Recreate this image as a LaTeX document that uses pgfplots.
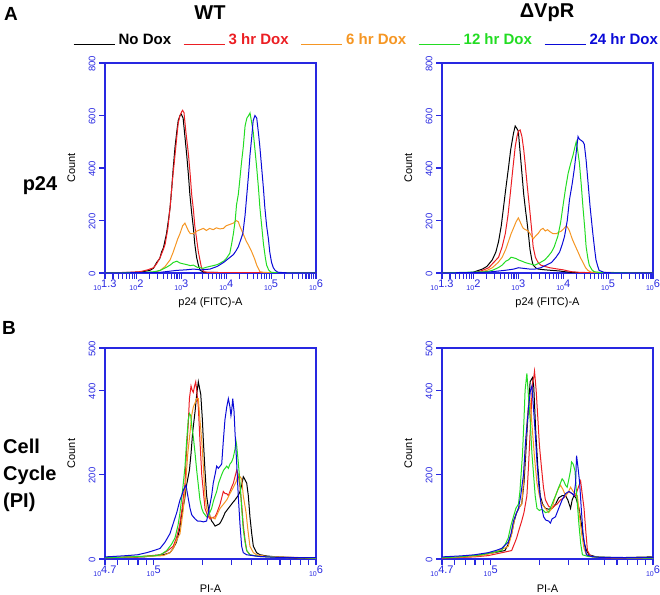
\documentclass[border=0pt]{standalone}
\usepackage{pgfplots}
\pgfplotsset{compat=1.18}
\usepackage{fontspec}
\setmainfont{Liberation Sans}
\definecolor{axblue}{RGB}{40,40,225}
\definecolor{cblack}{RGB}{0,0,0}
\definecolor{cred}{RGB}{235,30,35}
\definecolor{corange}{RGB}{245,150,35}
\definecolor{cgreen}{RGB}{35,220,35}
\definecolor{cblue}{RGB}{10,10,215}
\newcommand\tlab[1]{{\fontsize{7}{7}\selectfont 10}\raisebox{3pt}{\fontsize{11}{11}\selectfont #1}}
\pgfplotsset{
  flow/.style={
    scale only axis, width=211pt,
    axis line style={axblue, line width=1.2pt},
    every tick/.style={axblue, line width=1.1pt},
    tick align=outside, tick pos=left,
    major tick length=6pt, minor tick length=6pt,
    ylabel={Count},
    ylabel style={font=\fontsize{11}{11}\selectfont, at={(axis description cs:-0.16,0.5)}, anchor=center, rotate=0},
    yticklabel style={rotate=90, anchor=south, font=\fontsize{9.5}{9.5}\selectfont, text=axblue, xshift=-1pt},
    xticklabel style={text=axblue, yshift=0pt, inner ysep=1pt},
    /pgf/number format/assume math mode=true,
    ymin=0,
    every axis plot/.append style={line width=1pt, no marks},
  },
  ptf/.style={flow, height=210pt, xmin=1.3, xmax=6, ymax=800,
    ytick={0,200,400,600,800},
    xtick={1.3,2,3,4,5,6},
    xticklabels={\tlab{1.3},\tlab{2},\tlab{3},\tlab{4},\tlab{5},\tlab{6}},
    minor xtick={1.47712,1.60206,1.69897,1.77815,1.84510,1.90309,1.95424,
      2.30103,2.47712,2.60206,2.69897,2.77815,2.84510,2.90309,2.95424,
      3.30103,3.47712,3.60206,3.69897,3.77815,3.84510,3.90309,3.95424,
      4.30103,4.47712,4.60206,4.69897,4.77815,4.84510,4.90309,4.95424,
      5.30103,5.47712,5.60206,5.69897,5.77815,5.84510,5.90309,5.95424},
    xlabel style={font=\fontsize{11}{11}\selectfont, at={(axis description cs:0.5,-0.142)}, anchor=center},
    xlabel={p24 (FITC)-A}},
  pi/.style={flow, height=211pt, xmin=4.7, xmax=6, ymax=500,
    ytick={0,200,400,500},
    xtick={4.7,5,6},
    xticklabels={\tlab{4.7},\tlab{5},\tlab{6}},
    minor xtick={4.77815,4.84510,4.90309,4.95424,
      5.30103,5.47712,5.60206,5.69897,5.77815,5.84510,5.90309,5.95424},
    xlabel style={font=\fontsize{11}{11}\selectfont, at={(axis description cs:0.5,-0.14)}, anchor=center},
    xlabel={PI-A}},
}
\begin{document}
\begin{tikzpicture}
\useasboundingbox (0,0) rectangle (660pt,594pt);
% ---------------- top-left: WT p24
\begin{axis}[ptf, at={(105pt,321pt)}, anchor=south west,
  legend style={at={(axis description cs:-0.152,1.11)}, anchor=west, draw=none, fill=none,
    inner xsep=0pt, inner ysep=0pt, font=\fontsize{15}{15}\selectfont\bfseries,
    /tikz/every odd column/.append style={column sep=1.5pt},
    /tikz/every even column/.append style={column sep=10pt}},
  legend columns=5,
  legend image code/.code={\draw[#1, line width=1pt] (0pt,-5pt) -- (41pt,-5pt);}]
\addplot[cblack] coordinates {(1.3,0)(1.8,2)(2.0,3)(2.15,5)(2.3,10)(2.38,18)(2.45,40)(2.52,55)(2.56,80)(2.6,95)(2.67,150)(2.72,210)(2.75,250)(2.79,330)(2.82,400)(2.86,480)(2.9,540)(2.93,580)(2.97,600)(3.0,605)(3.04,590)(3.08,520)(3.12,450)(3.16,370)(3.19,300)(3.23,230)(3.27,170)(3.3,110)(3.34,60)(3.38,30)(3.42,10)(3.5,3)(3.7,2)(6,0)};
\addlegendentry{\textcolor{cblack}{No Dox}}
\addplot[cred] coordinates {(1.3,0)(1.9,3)(2.08,5)(2.25,12)(2.38,20)(2.45,35)(2.53,60)(2.6,90)(2.64,110)(2.7,170)(2.75,250)(2.8,350)(2.86,450)(2.9,520)(2.93,570)(2.97,600)(3.01,615)(3.03,620)(3.06,610)(3.1,540)(3.16,450)(3.2,370)(3.23,300)(3.27,240)(3.3,180)(3.34,130)(3.38,80)(3.42,45)(3.45,20)(3.5,5)(3.6,2)(6,0)};
\addlegendentry{\textcolor{cred}{3 hr Dox}}
\addplot[corange] coordinates {(1.3,0)(2.3,2)(2.45,5)(2.53,10)(2.64,25)(2.75,50)(2.82,80)(2.86,100)(2.92,130)(2.97,150)(3.03,180)(3.08,190)(3.12,175)(3.16,160)(3.2,150)(3.27,150)(3.35,160)(3.42,165)(3.49,170)(3.56,162)(3.63,170)(3.71,165)(3.78,172)(3.86,168)(3.94,170)(4.0,180)(4.08,185)(4.16,190)(4.22,200)(4.27,195)(4.3,180)(4.35,160)(4.4,140)(4.45,120)(4.5,105)(4.57,80)(4.63,55)(4.68,30)(4.75,5)(4.85,2)(6,0)};
\addlegendentry{\textcolor{corange}{6 hr Dox}}
\addplot[cgreen] coordinates {(1.3,0)(2.15,2)(2.4,5)(2.53,10)(2.65,20)(2.75,30)(2.82,40)(2.9,45)(2.97,38)(3.04,35)(3.12,32)(3.2,28)(3.27,30)(3.35,22)(3.42,20)(3.49,18)(3.56,22)(3.63,25)(3.71,28)(3.8,32)(3.87,38)(3.94,45)(4.0,55)(4.08,75)(4.12,110)(4.16,150)(4.2,200)(4.23,260)(4.27,300)(4.3,350)(4.34,420)(4.38,480)(4.42,560)(4.46,590)(4.5,600)(4.53,610)(4.56,580)(4.6,540)(4.64,470)(4.68,400)(4.72,320)(4.75,250)(4.79,180)(4.83,110)(4.87,60)(4.9,30)(4.95,10)(5.0,3)(5.1,1)(6,0)};
\addlegendentry{\textcolor{cgreen}{12 hr Dox}}
\addplot[cblue] coordinates {(1.3,0)(2.5,2)(2.9,10)(3.1,12)(3.27,15)(3.45,12)(3.64,15)(3.8,25)(3.94,40)(4.05,55)(4.16,70)(4.22,85)(4.27,100)(4.33,130)(4.37,150)(4.42,220)(4.46,300)(4.5,380)(4.53,450)(4.57,520)(4.6,580)(4.64,600)(4.68,590)(4.72,530)(4.75,480)(4.79,400)(4.83,320)(4.86,250)(4.9,180)(4.94,130)(4.97,80)(5.01,40)(5.05,20)(5.09,10)(5.15,3)(5.3,1)(6,0)};
\addlegendentry{\textcolor{cblue}{24 hr Dox}}
\end{axis}
% ---------------- top-right: dVpR p24
\begin{axis}[ptf, at={(442pt,321pt)}, anchor=south west]
\addplot[cblack] coordinates {(1.3,0)(1.98,2)(2.2,15)(2.3,25)(2.42,50)(2.5,80)(2.56,120)(2.62,180)(2.67,250)(2.72,320)(2.78,400)(2.83,470)(2.89,530)(2.93,560)(2.97,550)(3.0,540)(3.04,460)(3.08,380)(3.12,300)(3.16,240)(3.19,200)(3.23,140)(3.26,90)(3.3,50)(3.33,30)(3.4,18)(3.44,15)(3.6,12)(3.74,10)(3.9,8)(4.03,5)(4.2,2)(6,0)};
\addplot[cred] coordinates {(1.3,0)(2.05,2)(2.2,10)(2.34,20)(2.45,40)(2.56,60)(2.64,100)(2.71,150)(2.77,220)(2.82,300)(2.88,400)(2.93,480)(2.97,520)(3.0,540)(3.04,545)(3.08,520)(3.12,470)(3.15,420)(3.2,330)(3.26,230)(3.3,160)(3.33,100)(3.38,60)(3.44,40)(3.5,30)(3.59,25)(3.7,20)(3.88,15)(4.0,12)(4.18,5)(4.4,2)(6,0)};
\addplot[corange] coordinates {(1.3,0)(2.12,2)(2.3,10)(2.42,20)(2.55,40)(2.64,60)(2.72,90)(2.78,120)(2.84,150)(2.89,170)(2.95,195)(3.0,210)(3.04,195)(3.08,180)(3.11,170)(3.16,165)(3.22,160)(3.28,145)(3.33,130)(3.38,140)(3.44,150)(3.5,165)(3.55,170)(3.6,160)(3.65,165)(3.7,158)(3.77,150)(3.85,150)(3.9,155)(3.96,160)(4.02,170)(4.07,180)(4.11,170)(4.14,160)(4.2,130)(4.25,110)(4.29,95)(4.33,80)(4.38,60)(4.44,40)(4.5,20)(4.55,10)(4.62,3)(6,0)};
\addplot[cgreen] coordinates {(1.3,0)(2.3,5)(2.42,10)(2.55,20)(2.64,30)(2.72,45)(2.78,50)(2.84,60)(2.89,58)(2.95,55)(3.0,50)(3.08,45)(3.15,40)(3.25,35)(3.37,30)(3.47,38)(3.59,50)(3.67,65)(3.74,80)(3.8,100)(3.88,140)(3.94,190)(3.99,250)(4.05,320)(4.11,380)(4.17,420)(4.22,450)(4.26,480)(4.29,500)(4.32,470)(4.36,420)(4.4,340)(4.44,250)(4.48,170)(4.51,100)(4.55,55)(4.58,30)(4.64,12)(4.69,5)(4.8,2)(6,0)};
\addplot[cblue] coordinates {(1.3,0)(2.3,3)(2.7,10)(2.9,15)(3.0,20)(3.1,18)(3.25,15)(3.37,15)(3.5,20)(3.62,30)(3.74,40)(3.84,60)(3.92,80)(3.98,110)(4.03,140)(4.09,200)(4.14,280)(4.2,340)(4.25,400)(4.29,460)(4.33,520)(4.36,510)(4.4,505)(4.44,500)(4.47,490)(4.51,430)(4.55,350)(4.6,250)(4.66,150)(4.7,90)(4.73,50)(4.77,25)(4.8,10)(4.9,3)(5.0,1)(6,0)};
\end{axis}
% ---------------- bottom-left: WT PI
\begin{axis}[pi, at={(105pt,35pt)}, anchor=south west]
\addplot[cblack] coordinates {(4.7,3)(4.8,4)(4.94,5)(5.0,8)(5.06,10)(5.1,15)(5.12,25)(5.14,40)(5.16,70)(5.17,100)(5.19,140)(5.2,170)(5.22,210)(5.23,250)(5.24,300)(5.255,350)(5.265,390)(5.275,420)(5.28,410)(5.29,390)(5.3,330)(5.306,280)(5.316,210)(5.326,150)(5.337,120)(5.347,100)(5.357,90)(5.367,85)(5.378,78)(5.388,80)(5.4,82)(5.409,85)(5.419,92)(5.429,100)(5.44,110)(5.45,115)(5.46,120)(5.47,125)(5.48,130)(5.49,135)(5.501,140)(5.51,145)(5.52,150)(5.532,160)(5.542,175)(5.552,195)(5.56,190)(5.573,180)(5.583,150)(5.593,100)(5.604,60)(5.614,30)(5.634,15)(5.655,10)(5.7,7)(5.758,5)(5.86,3)(5.963,2)(6,2)};
\addplot[cred] coordinates {(4.7,3)(4.9,5)(5.04,10)(5.08,18)(5.12,30)(5.14,50)(5.16,80)(5.175,120)(5.193,180)(5.2,240)(5.213,320)(5.22,380)(5.23,410)(5.237,400)(5.244,395)(5.252,410)(5.259,420)(5.265,400)(5.275,360)(5.285,280)(5.296,200)(5.306,160)(5.316,120)(5.33,105)(5.347,95)(5.36,98)(5.378,100)(5.39,110)(5.409,130)(5.419,145)(5.429,160)(5.44,155)(5.45,155)(5.46,150)(5.47,160)(5.48,170)(5.491,180)(5.501,195)(5.511,210)(5.521,200)(5.532,170)(5.542,130)(5.552,80)(5.563,45)(5.573,20)(5.593,10)(5.614,8)(5.7,5)(5.86,3)(6,2)};
\addplot[corange] coordinates {(4.7,3)(4.9,5)(5.059,8)(5.1,15)(5.121,25)(5.142,45)(5.162,60)(5.18,110)(5.193,160)(5.199,190)(5.21,250)(5.224,300)(5.234,340)(5.244,360)(5.255,370)(5.265,380)(5.275,380)(5.285,330)(5.296,280)(5.306,220)(5.316,150)(5.326,120)(5.337,110)(5.347,100)(5.36,98)(5.378,95)(5.39,105)(5.409,120)(5.43,130)(5.45,140)(5.47,155)(5.491,170)(5.51,185)(5.521,200)(5.532,195)(5.542,190)(5.552,150)(5.569,110)(5.58,70)(5.593,30)(5.614,15)(5.634,10)(5.7,6)(5.86,4)(6,2)};
\addplot[cgreen] coordinates {(4.7,3)(4.85,5)(5.018,8)(5.05,12)(5.08,20)(5.11,35)(5.131,50)(5.15,80)(5.162,110)(5.18,170)(5.193,220)(5.203,280)(5.213,330)(5.22,345)(5.228,340)(5.236,310)(5.244,290)(5.255,250)(5.265,210)(5.275,175)(5.285,140)(5.296,120)(5.306,110)(5.316,105)(5.326,100)(5.34,105)(5.357,120)(5.37,140)(5.388,160)(5.4,180)(5.419,200)(5.43,210)(5.45,220)(5.46,215)(5.47,225)(5.48,230)(5.49,240)(5.501,260)(5.507,280)(5.511,270)(5.521,230)(5.532,180)(5.542,120)(5.552,70)(5.563,40)(5.573,20)(5.593,10)(5.65,6)(5.758,4)(6,2)};
\addplot[cblue] coordinates {(4.7,5)(4.75,6)(4.833,8)(4.9,10)(4.957,15)(5.0,20)(5.039,25)(5.07,40)(5.1,60)(5.121,85)(5.142,110)(5.162,140)(5.172,150)(5.185,165)(5.199,175)(5.21,150)(5.224,120)(5.234,105)(5.244,100)(5.255,95)(5.27,90)(5.285,90)(5.306,88)(5.326,90)(5.337,110)(5.347,130)(5.357,150)(5.367,180)(5.378,200)(5.388,220)(5.398,215)(5.409,220)(5.419,225)(5.429,280)(5.439,330)(5.45,360)(5.46,380)(5.47,360)(5.476,340)(5.48,350)(5.487,380)(5.495,350)(5.501,300)(5.511,230)(5.521,150)(5.532,80)(5.542,30)(5.552,15)(5.573,10)(5.65,6)(5.758,4)(6,3)};
\end{axis}
% ---------------- bottom-right: dVpR PI
\begin{axis}[pi, at={(442pt,35pt)}, anchor=south west]
\addplot[cblack] coordinates {(4.7,3)(4.85,5)(4.943,10)(5.02,15)(5.088,20)(5.108,35)(5.129,60)(5.145,90)(5.16,110)(5.18,125)(5.191,130)(5.205,180)(5.216,250)(5.228,330)(5.243,420)(5.25,425)(5.258,430)(5.265,410)(5.278,300)(5.29,220)(5.305,150)(5.32,130)(5.337,120)(5.357,118)(5.378,120)(5.4,130)(5.419,145)(5.44,150)(5.461,150)(5.475,140)(5.492,120)(5.502,140)(5.513,150)(5.525,145)(5.544,120)(5.56,80)(5.575,40)(5.59,20)(5.606,10)(5.65,5)(5.772,3)(5.99,5)(6,3)};
\addplot[cred] coordinates {(4.7,2)(4.9,5)(4.984,8)(5.07,15)(5.129,20)(5.15,40)(5.16,50)(5.175,70)(5.191,90)(5.205,110)(5.223,150)(5.233,220)(5.243,300)(5.254,390)(5.258,420)(5.265,430)(5.27,445)(5.28,400)(5.291,330)(5.3,270)(5.312,220)(5.325,170)(5.337,140)(5.357,125)(5.378,120)(5.399,128)(5.409,130)(5.43,140)(5.451,145)(5.471,155)(5.482,160)(5.5,155)(5.523,150)(5.54,170)(5.554,185)(5.565,150)(5.575,120)(5.585,70)(5.596,20)(5.61,10)(5.627,5)(5.7,3)(6,2)};
\addplot[corange] coordinates {(4.7,3)(4.85,5)(4.943,8)(5.02,15)(5.08,25)(5.108,30)(5.13,60)(5.15,100)(5.171,120)(5.191,130)(5.202,180)(5.212,250)(5.225,330)(5.239,390)(5.248,350)(5.258,300)(5.27,240)(5.285,180)(5.3,150)(5.316,130)(5.337,120)(5.357,110)(5.378,120)(5.399,150)(5.415,165)(5.43,175)(5.445,165)(5.461,150)(5.48,160)(5.492,170)(5.508,160)(5.534,150)(5.548,100)(5.56,60)(5.575,25)(5.59,10)(5.62,6)(5.668,4)(6,2)};
\addplot[cgreen] coordinates {(4.7,3)(4.8,5)(4.943,10)(5.0,15)(5.067,20)(5.09,35)(5.108,50)(5.125,80)(5.14,100)(5.155,120)(5.171,130)(5.18,160)(5.196,250)(5.205,330)(5.212,400)(5.223,440)(5.23,400)(5.243,330)(5.254,250)(5.264,200)(5.274,150)(5.285,120)(5.3,115)(5.316,118)(5.337,110)(5.357,112)(5.378,130)(5.388,140)(5.4,150)(5.419,170)(5.43,180)(5.44,190)(5.45,185)(5.461,175)(5.471,170)(5.482,190)(5.492,210)(5.498,230)(5.508,225)(5.519,210)(5.53,150)(5.544,80)(5.555,35)(5.565,10)(5.6,6)(5.668,4)(6,2)};
\addplot[cblue] coordinates {(4.7,5)(4.8,7)(4.839,8)(4.9,10)(4.984,15)(5.03,20)(5.067,25)(5.108,40)(5.125,60)(5.14,90)(5.16,110)(5.171,120)(5.185,150)(5.202,200)(5.215,280)(5.233,360)(5.245,400)(5.254,410)(5.265,350)(5.274,300)(5.285,230)(5.295,180)(5.31,130)(5.326,100)(5.34,92)(5.357,90)(5.368,85)(5.378,95)(5.399,100)(5.419,120)(5.44,140)(5.461,155)(5.482,160)(5.502,155)(5.513,150)(5.523,180)(5.529,245)(5.54,210)(5.548,180)(5.558,120)(5.569,60)(5.58,30)(5.59,10)(5.62,6)(5.668,4)(6,3)};
\end{axis}
% ---------------- titles and row labels
\node[font=\fontsize{19}{19}\selectfont\bfseries] at (11pt,580pt) {A};
\node[font=\fontsize{20}{20}\selectfont\bfseries] at (210pt,581pt) {WT};
\node[font=\fontsize{20}{20}\selectfont\bfseries] at (547pt,581pt) {ΔVpR};
\node[font=\fontsize{20}{20}\selectfont\bfseries] at (40pt,408pt) {p24};
\node[font=\fontsize{19}{19}\selectfont\bfseries] at (9pt,266pt) {B};
\node[font=\fontsize{20}{27}\selectfont\bfseries, align=left, anchor=west, inner sep=0pt] at (3pt,119pt) {Cell\\Cycle\\(PI)};
\end{tikzpicture}
\end{document}
